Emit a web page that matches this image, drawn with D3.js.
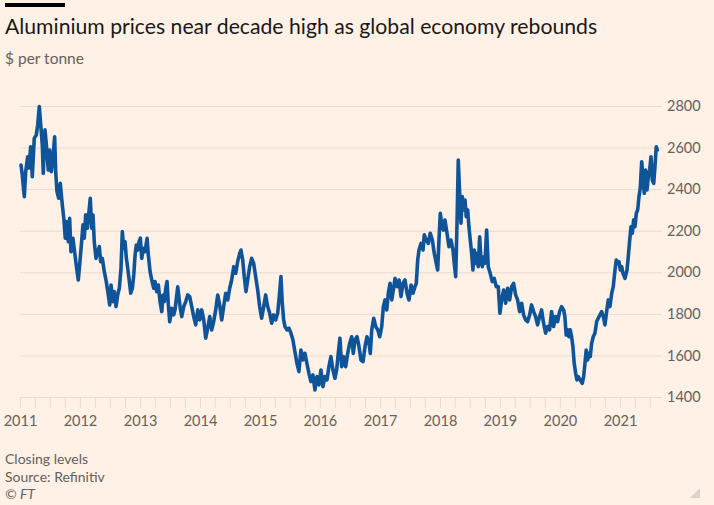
<!DOCTYPE html>
<html>
<head>
<meta charset="utf-8">
<script src="https://cdn.jsdelivr.net/npm/d3@7"></script>
<style>
  html, body { margin: 0; padding: 0; background: #fff1e5; }
  svg { display: block; }
</style>
</head>
<body>
<svg id="chart" width="714" height="505"></svg>
<script>
// ---- Data (decimal years) ----
const dates = [
2011.017,2011.038,2011.072,2011.095,2011.128,2011.150,2011.178,2011.205,2011.238,2011.272,
2011.295,2011.322,2011.350,2011.372,2011.388,2011.417,2011.445,2011.472,2011.495,2011.522,
2011.550,2011.578,2011.595,2011.617,2011.645,2011.672,2011.700,2011.733,2011.755,2011.783,
2011.805,2011.828,2011.850,2011.883,2011.917,2011.945,2011.972,2012.000,2012.028,2012.050,
2012.072,2012.095,2012.122,2012.150,2012.172,2012.195,2012.217,2012.238,2012.267,2012.295,
2012.322,2012.345,2012.372,2012.405,2012.438,2012.472,2012.495,2012.517,2012.545,2012.572,
2012.600,2012.628,2012.655,2012.683,2012.705,2012.728,2012.750,2012.772,2012.795,2012.822,
2012.845,2012.872,2012.895,2012.917,2012.938,2012.962,2012.983,2013.005,2013.028,2013.055,
2013.083,2013.117,2013.138,2013.167,2013.195,2013.228,2013.250,2013.278,2013.305,2013.333,
2013.362,2013.383,2013.405,2013.428,2013.450,2013.472,2013.495,2013.528,2013.562,2013.583,
2013.628,2013.667,2013.695,2013.728,2013.762,2013.795,2013.828,2013.862,2013.895,2013.928,
2013.962,2013.995,2014.028,2014.062,2014.095,2014.128,2014.162,2014.195,2014.228,2014.262,
2014.295,2014.328,2014.362,2014.395,2014.428,2014.462,2014.495,2014.528,2014.562,2014.595,
2014.628,2014.662,2014.683,2014.712,2014.738,2014.767,2014.795,2014.828,2014.862,2014.895,
2014.928,2014.962,2014.995,2015.028,2015.062,2015.095,2015.128,2015.162,2015.195,2015.228,
2015.262,2015.295,2015.322,2015.350,2015.372,2015.395,2015.417,2015.450,2015.483,2015.517,
2015.550,2015.583,2015.617,2015.650,2015.683,2015.717,2015.750,2015.783,2015.817,2015.850,
2015.883,2015.917,2015.950,2015.983,2016.017,2016.050,2016.083,2016.117,2016.150,2016.183,
2016.217,2016.250,2016.278,2016.305,2016.333,2016.362,2016.395,2016.428,2016.462,2016.495,
2016.528,2016.555,2016.583,2016.617,2016.650,2016.683,2016.717,2016.750,2016.783,2016.817,
2016.838,2016.862,2016.895,2016.928,2016.962,2016.995,2017.028,2017.055,2017.083,2017.112,
2017.138,2017.167,2017.195,2017.222,2017.250,2017.283,2017.317,2017.350,2017.383,2017.417,
2017.450,2017.483,2017.517,2017.550,2017.583,2017.605,2017.628,2017.650,2017.683,2017.717,
2017.738,2017.772,2017.805,2017.838,2017.872,2017.905,2017.938,2017.962,2017.983,2018.005,
2018.028,2018.055,2018.083,2018.117,2018.150,2018.183,2018.217,2018.238,2018.262,2018.283,
2018.305,2018.328,2018.350,2018.372,2018.395,2018.417,2018.438,2018.462,2018.483,2018.505,
2018.528,2018.550,2018.572,2018.595,2018.617,2018.638,2018.662,2018.683,2018.705,2018.728,
2018.750,2018.778,2018.805,2018.838,2018.872,2018.905,2018.938,2018.972,2019.000,2019.028,
2019.062,2019.095,2019.128,2019.162,2019.195,2019.228,2019.262,2019.295,2019.328,2019.362,
2019.395,2019.428,2019.462,2019.495,2019.528,2019.562,2019.595,2019.628,2019.662,2019.695,
2019.728,2019.762,2019.795,2019.828,2019.862,2019.895,2019.928,2019.962,2019.995,2020.028,
2020.062,2020.083,2020.105,2020.128,2020.150,2020.172,2020.195,2020.217,2020.238,2020.262,
2020.283,2020.305,2020.338,2020.372,2020.395,2020.417,2020.438,2020.462,2020.483,2020.505,
2020.528,2020.555,2020.583,2020.612,2020.638,2020.667,2020.695,2020.722,2020.750,2020.778,
2020.805,2020.833,2020.862,2020.888,2020.917,2020.938,2020.962,2020.983,2021.005,2021.028,
2021.050,2021.083,2021.117,2021.138,2021.162,2021.183,2021.205,2021.228,2021.250,2021.272,
2021.295,2021.317,2021.338,2021.362,2021.383,2021.405,2021.428,2021.450,2021.472,2021.495,
2021.517,2021.538,2021.562,2021.583,2021.605,2021.622
];
const prices = [
2516,2468,2364,2484,2556,2502,2604,2460,2645,2660,
2709,2797,2694,2612,2476,2685,2597,2492,2588,2484,
2548,2652,2484,2388,2356,2428,2340,2252,2164,2244,
2147,2260,2099,2164,2083,2019,1963,2051,2147,2228,
2164,2276,2212,2292,2356,2212,2276,2147,2067,2099,
2123,2051,2067,2003,1955,1891,1843,1939,1859,1907,
1835,1891,1923,2019,2196,2115,2147,2067,2019,1955,
1899,1923,1987,2083,2131,2107,2147,2164,2067,2115,
2099,2164,2083,2003,1963,1923,1955,1907,1939,1859,
1811,1891,1859,1923,1955,1843,1762,1827,1795,1820,
1930,1835,1787,1835,1859,1891,1883,1835,1787,1747,
1819,1771,1819,1771,1683,1731,1787,1723,1763,1819,
1891,1843,1771,1835,1899,1867,1923,1963,2027,1995,
2051,2091,2107,2059,1979,1907,1963,2027,2067,2043,
1979,1915,1835,1779,1835,1891,1835,1803,1755,1795,
1771,1803,1883,1979,1851,1771,1739,1723,1731,1707,
1674,1618,1562,1522,1626,1578,1610,1562,1514,1474,
1506,1434,1498,1458,1530,1450,1498,1482,1546,1594,
1530,1490,1530,1610,1683,1546,1594,1546,1610,1658,
1690,1610,1674,1690,1642,1578,1570,1642,1690,1658,
1610,1723,1779,1739,1723,1690,1739,1835,1867,1819,
1899,1947,1867,1915,1971,1931,1963,1883,1947,1963,
1899,1867,1939,1899,1931,1947,2059,2107,2139,2107,
2180,2155,2139,2188,2155,2091,2043,2011,2155,2284,
2236,2203,2252,2188,2123,2155,2107,2043,1979,2219,
2540,2380,2236,2364,2300,2348,2268,2300,2219,2155,
2091,2011,2107,2043,2091,2027,2171,2059,2027,2075,
2043,2203,2027,1995,1955,1971,1931,1931,1803,1867,
1915,1851,1923,1867,1931,1947,1891,1867,1811,1851,
1795,1771,1763,1795,1843,1811,1787,1747,1787,1819,
1755,1707,1739,1723,1811,1739,1787,1763,1811,1835,
1819,1787,1698,1723,1690,1723,1690,1642,1562,1514,
1482,1498,1482,1466,1498,1562,1626,1578,1610,1594,
1658,1690,1707,1763,1779,1795,1811,1787,1747,1811,
1867,1835,1899,1931,2011,2059,2043,2051,2011,2027,
1995,1971,2011,2075,2155,2219,2188,2252,2219,2284,
2300,2364,2404,2532,2460,2380,2492,2396,2460,2492,
2556,2444,2428,2508,2604,2588
];
const yTicks = [1400, 1600, 1800, 2000, 2200, 2400, 2600, 2800];
const yearLabels = ["2011","2012","2013","2014","2015","2016","2017","2018","2019","2020","2021"];

const titleText = "Aluminium prices near decade high as global economy rebounds";
const subtitleText = "$ per tonne";
const footnotes = ["Closing levels", "Source: Refinitiv"];
const creditText = "\u00A9 FT";

// ---- helpers ----
function toDate(d) {
  const y = Math.floor(d);
  const s = Date.UTC(y, 0, 1), e = Date.UTC(y + 1, 0, 1);
  return new Date(s + (d - y) * (e - s));
}
const data = dates.map((d, i) => ({ date: toDate(d), value: prices[i] }));

const svg = d3.select("#chart");
const W = 714, H = 505;
svg.append("rect").attr("width", W).attr("height", H).attr("fill", "#fff1e5");

const FONT = "Lato, 'Open Sans', sans-serif";

// top bar
svg.append("rect").attr("x", 5).attr("y", 3).attr("width", 60).attr("height", 4).attr("fill", "#000");

svg.append("text").attr("x", 5).attr("y", 34)
  .attr("font-family", FONT).attr("font-size", 21.2).attr("fill", "#1a1817")
  .text(titleText);
svg.append("text").attr("x", 5).attr("y", 64)
  .attr("font-family", FONT).attr("font-size", 15.5).attr("fill", "#66605c")
  .text(subtitleText);

// scales
const x = d3.scaleUtc()
  .domain([new Date(Date.UTC(2011, 0, 1)), new Date(Date.UTC(2021, 0, 1))])
  .range([20, 620]);
const y = d3.scaleLinear().domain([1400, 2800]).range([397, 106]);

const gridColor = "#e8dbcf";
// y grid + labels
const yAxis = d3.axisRight(y).tickValues(yTicks).tickSize(642).tickPadding(5).tickFormat(d3.format("d"));
const gy = svg.append("g").attr("transform", "translate(20,0)").call(yAxis);
gy.select(".domain").remove();
gy.selectAll(".tick line").attr("stroke", gridColor).attr("stroke-width", 1);
gy.selectAll(".tick text").attr("font-family", FONT).attr("font-size", 14.5).attr("fill", "#66605c");

// x ticks (quarterly) + year labels
const qTicks = d3.utcMonth.every(3).range(new Date(Date.UTC(2011, 0, 1)), new Date(Date.UTC(2021, 6, 2)));
const xAxis = d3.axisBottom(x).tickValues(qTicks).tickSize(10).tickPadding(8)
  .tickFormat(d => d.getUTCMonth() === 0 ? yearLabels[d.getUTCFullYear() - 2011] : "");
const gx = svg.append("g").attr("transform", "translate(0,398)").call(xAxis);
gx.select(".domain").remove();
gx.selectAll(".tick line").attr("stroke", gridColor).attr("stroke-width", 1);
gx.selectAll(".tick text").attr("font-family", FONT).attr("font-size", 14.5).attr("fill", "#66605c");

// line
const line = d3.line().x(d => x(d.date)).y(d => y(d.value)).curve(d3.curveLinear);
svg.append("path").datum(data)
  .attr("d", line)
  .attr("fill", "none")
  .attr("stroke", "#0f5499")
  .attr("stroke-width", 3.6)
  .attr("stroke-linejoin", "round")
  .attr("stroke-linecap", "round");

// footer
footnotes.forEach((t, i) => {
  svg.append("text").attr("x", 5).attr("y", 464 + i * 17.5)
    .attr("font-family", FONT).attr("font-size", 14).attr("fill", "#66605c").text(t);
});
svg.append("text").attr("x", 5).attr("y", 499)
  .attr("font-family", FONT).attr("font-size", 14).attr("font-style", "italic")
  .attr("fill", "#66605c").text(creditText);

// corner grip
svg.append("path").attr("d", "M700,488 L700,498 L690,498 Z").attr("fill", "#dcd2ca");
</script>
</body>
</html>
